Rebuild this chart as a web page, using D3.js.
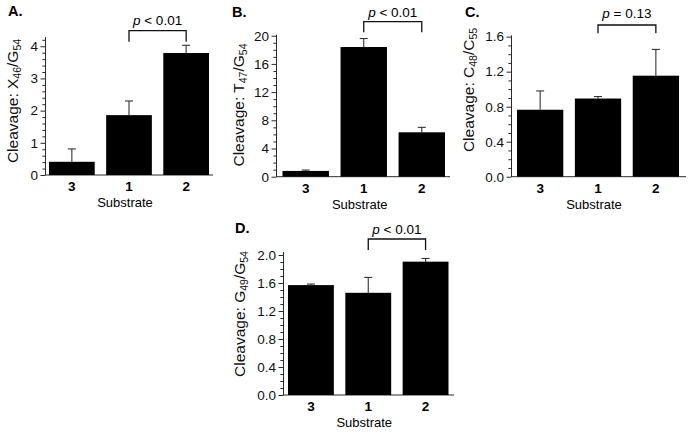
<!DOCTYPE html>
<html><head><meta charset="utf-8">
<script src="https://cdn.jsdelivr.net/npm/d3@7"></script>
<style>
html,body{margin:0;padding:0;background:#fff;}
svg{display:block;font-family:"Liberation Sans",Arial,Helvetica,sans-serif;}
</style></head>
<body>
<script>
// ---------- DATA ----------
const categories = ["3", "1", "2"];

const valuesA = [0.41, 1.86, 3.79];
const errorsA = [0.40, 0.44, 0.24];
const ticksA = [0, 1, 2, 3, 4];

const valuesB = [0.82, 18.4, 6.3];
const errorsB = [0.12, 1.2, 0.7];
const ticksB = [0, 4, 8, 12, 16, 20];

const valuesC = [0.765, 0.893, 1.154];
const errorsC = [0.215, 0.023, 0.30];
const ticksC = [0.0, 0.4, 0.8, 1.2, 1.6];

const valuesD = [1.57, 1.46, 1.905];
const errorsD = [0.015, 0.22, 0.045];
const ticksD = [0.0, 0.4, 0.8, 1.2, 1.6, 2.0];

const pLabels = ["< 0.01", "< 0.01", "= 0.13", "< 0.01"];
const panelLetters = ["A.", "B.", "C.", "D."];
const yTitles = [
  {main: "Cleavage: X", s1: "46", mid: "/G", s2: "54"},
  {main: "Cleavage: T", s1: "47", mid: "/G", s2: "54"},
  {main: "Cleavage: C", s1: "48", mid: "/C", s2: "55"},
  {main: "Cleavage: G", s1: "49", mid: "/G", s2: "54"}
];
const xTitle = "Substrate";

// ---------- LAYOUT ----------
const W = 691, H = 434;
const svg = d3.select("body").append("svg").attr("width", W).attr("height", H);

const panels = [
  {values: valuesA, errors: errorsA, ticks: ticksA, minor: 0.2, dmax: 4.3, fmt: d3.format("d"),
   ax: 45, y0: 175, ytop: 36.6, b0: 49, b1: 209, xend: 213,
   letterX: 8, letterY: 16, titleX: 13, titleY: 101,
   brY: 30.7, legY: 41.7, pY: 25},
  {values: valuesB, errors: errorsB, ticks: ticksB, minor: 1, dmax: 20.2, fmt: d3.format("d"),
   ax: 276, y0: 176.7, ytop: 34.3, b0: 282.5, b1: 445, xend: 450,
   letterX: 232, letterY: 16.5, titleX: 239, titleY: 105,
   brY: 21.7, legY: 32.3, pY: 16.7},
  {values: valuesC, errors: errorsC, ticks: ticksC, minor: 0.1, dmax: 1.62, fmt: d3.format(".1f"),
   ax: 511, y0: 176.7, ytop: 34.9, b0: 517, b1: 679, xend: 686,
   letterX: 465, letterY: 16.5, titleX: 469, titleY: 90,
   brY: 25, legY: 33.3, pY: 17.5},
  {values: valuesD, errors: errorsD, ticks: ticksD, minor: 0.1, dmax: 2.05, fmt: d3.format(".1f"),
   ax: 283, y0: 395, ytop: 251.5, b0: 288, b1: 448.5, xend: 454,
   letterX: 235, letterY: 233, titleX: 240, titleY: 314,
   brY: 239, legY: 250, pY: 233.5}
];

const axisColor = "#2a2a2a";

panels.forEach((p, i) => {
  const g = svg.append("g");
  const y = d3.scaleLinear().domain([0, p.dmax]).range([p.y0, p.ytop]);
  const x = d3.scaleBand().domain(categories).range([p.b0, p.b1]).paddingInner(0.2).paddingOuter(0);

  // minor ticks
  const minorVals = d3.range(0, p.dmax + 1e-9, p.minor).filter(v => !p.ticks.some(t => Math.abs(t - v) < 1e-6));
  const minorAxis = d3.axisLeft(y).tickValues(minorVals).tickSize(2.6).tickSizeOuter(0).tickFormat("");
  const ma = g.append("g").attr("transform", `translate(${p.ax},0)`).call(minorAxis);
  ma.select(".domain").remove();
  ma.selectAll("line").attr("stroke", axisColor);

  // major ticks
  const majorAxis = d3.axisLeft(y).tickValues(p.ticks).tickSize(4.5).tickSizeOuter(0).tickPadding(2.5).tickFormat(p.fmt);
  const mj = g.append("g").attr("transform", `translate(${p.ax},0)`).call(majorAxis);
  mj.select(".domain").attr("stroke", axisColor);
  mj.selectAll("line").attr("stroke", axisColor);
  mj.selectAll("text").attr("font-size", 13.5).attr("fill", "#111")
    .attr("font-family", "'Liberation Sans',Arial,sans-serif");

  // x baseline
  g.append("line").attr("x1", p.ax).attr("x2", p.xend).attr("y1", p.y0).attr("y2", p.y0)
    .attr("stroke", axisColor).attr("stroke-width", 1);

  // error bars (upward only)
  const eb = g.append("g");
  categories.forEach((c, k) => {
    const cx = x(c) + x.bandwidth() / 2;
    const top = y(p.values[k] + p.errors[k]);
    eb.append("line").attr("x1", cx).attr("x2", cx).attr("y1", y(p.values[k])).attr("y2", top)
      .attr("stroke", "#333").attr("stroke-width", 1.1);
    eb.append("line").attr("x1", cx - 4).attr("x2", cx + 4).attr("y1", top).attr("y2", top)
      .attr("stroke", "#333").attr("stroke-width", 1.1);
  });

  // bars
  g.selectAll("rect.bar").data(categories).enter().append("rect")
    .attr("class", "bar")
    .attr("x", c => x(c))
    .attr("width", x.bandwidth())
    .attr("y", (c, k) => y(p.values[k]))
    .attr("height", (c, k) => p.y0 - y(p.values[k]))
    .attr("fill", "#000");

  // category labels
  g.selectAll("text.cat").data(categories).enter().append("text")
    .attr("class", "cat")
    .attr("x", c => x(c) + x.bandwidth() / 2)
    .attr("y", p.y0 + 16.2)
    .attr("text-anchor", "middle")
    .attr("font-size", 13.5).attr("font-weight", "bold")
    .text(c => c);

  // x title
  g.append("text").attr("x", (p.b0 + p.b1) / 2 - 4).attr("y", p.y0 + 32)
    .attr("text-anchor", "middle").attr("font-size", 13).text(xTitle);

  // panel letter
  g.append("text").attr("x", p.letterX).attr("y", p.letterY)
    .attr("font-size", 14.5).attr("font-weight", "bold").text(panelLetters[i]);

  // y title
  const t = yTitles[i];
  const yt = g.append("text")
    .attr("transform", `translate(${p.titleX + 5},${p.titleY}) rotate(-90)`)
    .attr("text-anchor", "middle").attr("font-size", 15.5).attr("fill", "#111");
  yt.append("tspan").text(t.main);
  yt.append("tspan").attr("font-size", 10.5).attr("dy", 3).text(t.s1);
  yt.append("tspan").attr("dy", -3).text(t.mid);
  yt.append("tspan").attr("font-size", 10.5).attr("dy", 3).text(t.s2);

  // bracket
  const xa = x(categories[1]) + x.bandwidth() / 2;
  const xb = x(categories[2]) + x.bandwidth() / 2;
  g.append("path")
    .attr("d", `M${xa},${p.legY}V${p.brY}H${xb}V${p.legY}`)
    .attr("fill", "none").attr("stroke", "#111").attr("stroke-width", 1.3);
  const pt = g.append("text").attr("x", (xa + xb) / 2).attr("y", p.pY)
    .attr("text-anchor", "middle").attr("font-size", 13.5);
  pt.append("tspan").attr("font-style", "italic").text("p");
  pt.append("tspan").text(" " + pLabels[i]);
});
</script>
</body></html>
